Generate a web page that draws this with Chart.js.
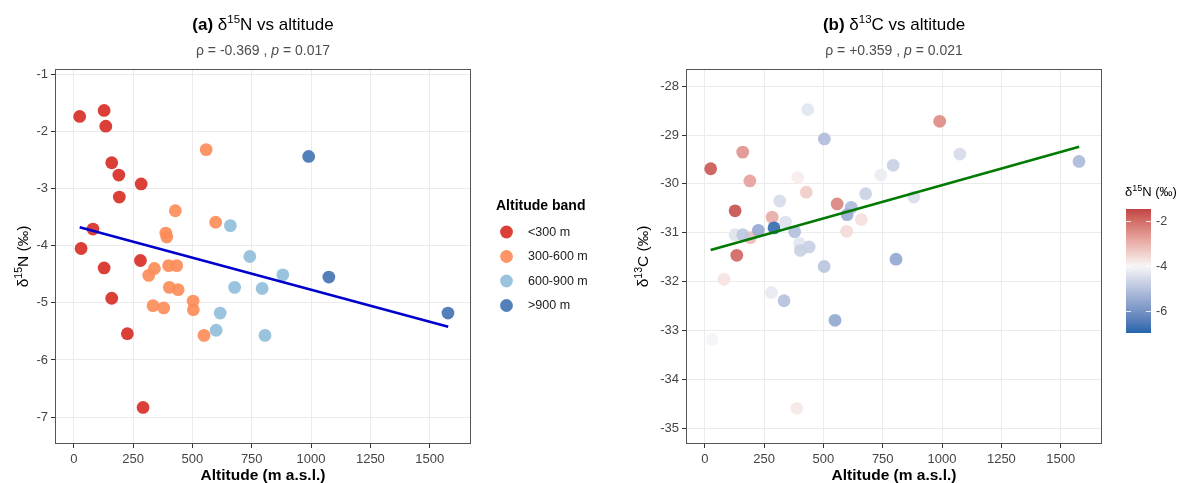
<!DOCTYPE html>
<html>
<head>
<meta charset="utf-8">
<script src="https://cdn.jsdelivr.net/npm/chart.js@4"></script>
<style>
  html, body { margin: 0; padding: 0; background: #fff; }
  #wrap { position: relative; width: 1182px; height: 483px; }
  #c1 { position: absolute; left: 0; top: 0; }
  #c2 { position: absolute; left: 620px; top: 0; }
</style>
</head>
<body>
<div id="wrap">
  <canvas id="c1" width="620" height="483"></canvas>
  <canvas id="c2" width="562" height="483"></canvas>
</div>
<script>
// ---- data (one entry per sample) ----
const altitude = [25, 128, 135, 160, 190, 284, 192, 81, 31, 281, 128, 160, 226, 292,
  558, 428, 598, 392, 388, 340, 316, 400, 434, 403, 440, 334, 379, 503, 504, 549,
  660, 742, 881, 678, 794, 617, 600, 806,
  990, 1075, 1577];
const d15N = [-1.74, -1.635, -1.91, -2.55, -2.765, -2.92, -3.15, -3.71, -4.05, -4.26, -4.39, -4.92, -5.54, -6.83,
  -2.32, -3.39, -3.59, -3.85, -3.78, -4.40, -4.52, -4.35, -4.35, -4.73, -4.77, -5.05, -5.09, -4.97, -5.12, -5.57,
  -3.65, -4.19, -4.51, -4.73, -4.75, -5.18, -5.48, -5.57,
  -2.44, -4.55, -5.18];
const d13C = [-29.69, -30.55, -31.46, -29.35, -29.94, -30.68, -31.10, -31.95, -33.18, -32.22, -31.04, -31.04, -30.95, -30.90,
  -30.41, -30.17, -30.97, -29.87, -34.59, -30.78, -30.35, -31.22, -28.48, -31.36, -31.29, -32.39, -30.98, -31.69, -29.08, -32.79,
  -30.73, -29.82, -30.27, -30.20, -29.62, -30.48, -30.63, -31.54,
  -28.72, -29.39, -29.54];
const band = [0,0,0,0,0,0,0,0,0,0,0,0,0,0,
  1,1,1,1,1,1,1,1,1,1,1,1,1,1,1,1,
  2,2,2,2,2,2,2,2,
  3,3,3];
const bandLabels = ['<300 m', '300-600 m', '600-900 m', '>900 m'];

// fitted regression lines (end points)
const fitX = [25, 1578];
const fitN = [-3.68, -5.42];
const fitC = [-31.35, -29.24];

const xTicks = [0, 250, 500, 750, 1000, 1250, 1500];
const yTicksN = [-7, -6, -5, -4, -3, -2, -1];
const yTicksC = [-35, -34, -33, -32, -31, -30, -29, -28];
const cbarTicks = [-6, -4, -2];

// ---- styling ----
const FONT = '"Liberation Sans", Arial, Helvetica, sans-serif';
const bandColors = ['rgba(215,48,39,0.92)', 'rgba(252,141,89,0.92)', 'rgba(145,191,219,0.92)', 'rgba(69,117,180,0.92)'];
const cbarLimits = [-7.0, -1.44];
const cbarMid = -4;

// Lab interpolation like ggplot's gradient2
function hexToRgb(h) { return [1, 3, 5].map(i => parseInt(h.slice(i, i + 2), 16)); }
function toLab(hex) {
  const lin = c => { c /= 255; return c <= 0.04045 ? c / 12.92 : Math.pow((c + 0.055) / 1.055, 2.4); };
  const [r, g, b] = hexToRgb(hex).map(lin);
  const x = (r * 0.4124 + g * 0.3576 + b * 0.1805) / 0.95047;
  const y = r * 0.2126 + g * 0.7152 + b * 0.0722;
  const z = (r * 0.0193 + g * 0.1192 + b * 0.9505) / 1.08883;
  const f = t => t > 0.008856 ? Math.cbrt(t) : 7.787 * t + 16 / 116;
  const fx = f(x), fy = f(y), fz = f(z);
  return [116 * fy - 16, 500 * (fx - fy), 200 * (fy - fz)];
}
function fromLab(L, a, b) {
  const fy = (L + 16) / 116, fx = fy + a / 500, fz = fy - b / 200;
  const g = t => t * t * t > 0.008856 ? t * t * t : (t - 16 / 116) / 7.787;
  const x = g(fx) * 0.95047, y = g(fy), z = g(fz) * 1.08883;
  const r = x * 3.2406 - y * 1.5372 - z * 0.4986;
  const gg = -x * 0.9689 + y * 1.8758 + z * 0.0415;
  const bb = x * 0.0557 - y * 0.2040 + z * 1.0570;
  const d = c => { c = c <= 0.0031308 ? 12.92 * c : 1.055 * Math.pow(c, 1 / 2.4) - 0.055; return Math.round(Math.max(0, Math.min(1, c)) * 255); };
  return [d(r), d(gg), d(bb)];
}
const labLow = toLab('#2166AC'), labMid = toLab('#F7F7F7'), labHigh = toLab('#B2182B');
function divColor(v, alpha) {
  const span = Math.max(cbarMid - cbarLimits[0], cbarLimits[1] - cbarMid);
  let t = 0.5 + (v - cbarMid) / (2 * span);
  t = Math.max(0, Math.min(1, t));
  const [a, b, u] = t < 0.5 ? [labLow, labMid, t * 2] : [labMid, labHigh, (t - 0.5) * 2];
  const c = fromLab(a[0] + (b[0] - a[0]) * u, a[1] + (b[1] - a[1]) * u, a[2] + (b[2] - a[2]) * u);
  return `rgba(${c[0]},${c[1]},${c[2]},${alpha})`;
}

// draw text made of pieces (for superscripts / italics)
function drawRich(ctx, parts, x, y, align) {
  let total = 0;
  parts.forEach(p => { ctx.font = p[1]; total += ctx.measureText(p[0]).width; });
  let cx = align === 'center' ? x - total / 2 : x;
  ctx.textAlign = 'left';
  ctx.textBaseline = 'alphabetic';
  parts.forEach(p => {
    ctx.font = p[1];
    ctx.fillText(p[0], cx, y + (p[2] || 0));
    cx += ctx.measureText(p[0]).width;
  });
}

function makeScales(yMin, yMax, yTicks, yWidth) {
  const tickFont = { family: FONT, size: 13 };
  const grid = { color: '#ebebeb', lineWidth: 1, tickColor: '#333', tickLength: 4 };
  return {
    x: {
      type: 'linear', min: -79, max: 1674,
      afterBuildTicks: s => { s.ticks = xTicks.map(v => ({ value: v })); },
      afterFit: s => { s.height = 39; },
      ticks: { font: tickFont, color: '#444', padding: 4, maxRotation: 0, autoSkip: false, callback: v => String(v) },
      grid: grid,
      border: { display: false },
      title: { display: true, text: 'Altitude (m a.s.l.)', color: '#000', padding: { top: 0, bottom: -2 },
               font: { family: FONT, size: 15.5, weight: 'bold' } }
    },
    y: {
      type: 'linear', min: yMin, max: yMax,
      afterBuildTicks: s => { s.ticks = yTicks.map(v => ({ value: v })); },
      afterFit: s => { s.width = yWidth; },
      ticks: { font: tickFont, color: '#444', padding: 3, autoSkip: false, callback: v => String(v) },
      grid: grid,
      border: { display: false }
    }
  };
}

function decorPlugin(opts) {
  return {
    id: 'decor',
    afterDraw(chart) {
      const ctx = chart.ctx, a = chart.chartArea;
      const cx = (a.left + a.right) / 2;
      ctx.save();
      // panel border
      ctx.strokeStyle = '#555';
      ctx.lineWidth = 1;
      ctx.strokeRect(Math.round(a.left) + 0.5, Math.round(a.top) + 0.5, Math.round(a.right - a.left) - 1, Math.round(a.bottom - a.top) - 1);
      // title and subtitle
      ctx.fillStyle = '#000';
      drawRich(ctx, opts.title, cx, 30, 'center');
      ctx.fillStyle = '#4d4d4d';
      drawRich(ctx, opts.subtitle, cx, 55, 'center');
      // y axis title
      ctx.fillStyle = '#000';
      ctx.save();
      ctx.translate(28, (a.top + a.bottom) / 2);
      ctx.rotate(-Math.PI / 2);
      drawRich(ctx, opts.yTitle, 0, 0, 'center');
      ctx.restore();
      if (opts.extra) opts.extra(ctx, chart);
      ctx.restore();
    }
  };
}

const f = (w, s) => `${w} ${s}px ${FONT}`;

function titleParts(tag, iso, el) {
  return [[tag + ' ', f('bold', 17)], ['δ', f('normal', 17)], [iso, f('normal', 11.5), -7], [el + ' vs altitude', f('normal', 17)]];
}

// ---- left: δ15N vs altitude ----
new Chart(document.getElementById('c1'), {
  type: 'scatter',
  data: {
    datasets: [
      { type: 'line', data: fitX.map((x, i) => ({ x: x, y: fitN[i] })), borderColor: '#0000CD', borderWidth: 2.6,
        pointRadius: 0, showLine: true, fill: false, order: 0 },
      { data: altitude.map((x, i) => ({ x: x, y: d15N[i] })), backgroundColor: band.map(b => bandColors[b]),
        borderWidth: 0, pointRadius: 6.4, pointHoverRadius: 6.4, order: 1 }
    ]
  },
  options: {
    responsive: false, animation: false, events: [],
    layout: { padding: { left: 0, top: 69, right: 149, bottom: 0 }, autoPadding: false },
    plugins: { legend: { display: false }, tooltip: { enabled: false } },
    scales: makeScales(-7.47, -0.91, yTicksN, 55)
  },
  plugins: [decorPlugin({
    title: titleParts('(a)', '15', 'N'),
    subtitle: [['ρ = -0.369 , ', f('normal', 14)], ['p', f('italic', 14)], [' = 0.017', f('normal', 14)]],
    yTitle: [['δ', f('normal', 15.5)], ['15', f('normal', 10.5), -6], ['N (‰)', f('normal', 15.5)]],
    extra(ctx) {
      // legend
      ctx.fillStyle = '#000';
      ctx.font = f('bold', 14);
      ctx.textAlign = 'left';
      ctx.textBaseline = 'alphabetic';
      ctx.fillText('Altitude band', 496, 210);
      ctx.font = f('normal', 12.5);
      ctx.textBaseline = 'middle';
      bandLabels.forEach((lab, i) => {
        const y = 232 + i * 24.5;
        ctx.fillStyle = bandColors[i];
        ctx.beginPath();
        ctx.arc(506.5, y, 6.4, 0, Math.PI * 2);
        ctx.fill();
        ctx.fillStyle = '#1a1a1a';
        ctx.fillText(lab, 528, y + 0.5);
      });
    }
  })]
});

// ---- right: δ13C vs altitude ----
new Chart(document.getElementById('c2'), {
  type: 'scatter',
  data: {
    datasets: [
      { type: 'line', data: fitX.map((x, i) => ({ x: x, y: fitC[i] })), borderColor: '#007A00', borderWidth: 2.6,
        pointRadius: 0, showLine: true, fill: false, order: 0 },
      { data: altitude.map((x, i) => ({ x: x, y: d13C[i] })), backgroundColor: d15N.map(v => divColor(v, 0.92)),
        borderWidth: 0, pointRadius: 6.4, pointHoverRadius: 6.4, order: 1 }
    ]
  },
  options: {
    responsive: false, animation: false, events: [],
    layout: { padding: { left: 0, top: 69, right: 80, bottom: 0 }, autoPadding: false },
    plugins: { legend: { display: false }, tooltip: { enabled: false } },
    scales: makeScales(-35.32, -27.65, yTicksC, 66)
  },
  plugins: [decorPlugin({
    title: titleParts('(b)', '13', 'C'),
    subtitle: [['ρ = +0.359 , ', f('normal', 14)], ['p', f('italic', 14)], [' = 0.021', f('normal', 14)]],
    yTitle: [['δ', f('normal', 15.5)], ['13', f('normal', 10.5), -6], ['C (‰)', f('normal', 15.5)]],
    extra(ctx) {
      // colour bar
      const x0 = 506, w = 25, top = 209, bot = 333;
      const vy = v => top + (cbarLimits[1] - v) / (cbarLimits[1] - cbarLimits[0]) * (bot - top);
      ctx.fillStyle = '#000';
      drawRich(ctx, [['δ', f('normal', 13)], ['15', f('normal', 9), -5], ['N (‰)', f('normal', 13)]], 505, 196, 'left');
      const grad = ctx.createLinearGradient(0, top, 0, bot);
      for (let k = 0; k <= 40; k++) {
        const v = cbarLimits[1] - (cbarLimits[1] - cbarLimits[0]) * k / 40;
        grad.addColorStop(k / 40, divColor(v, 1));
      }
      ctx.fillStyle = grad;
      ctx.fillRect(x0, top, w, bot - top);
      ctx.strokeStyle = 'rgba(255,255,255,0.8)';
      ctx.lineWidth = 1;
      ctx.font = f('normal', 12.5);
      ctx.textAlign = 'left';
      ctx.textBaseline = 'middle';
      cbarTicks.forEach(t => {
        const y = Math.round(vy(t)) + 0.5;
        ctx.beginPath();
        ctx.moveTo(x0, y); ctx.lineTo(x0 + 5, y);
        ctx.moveTo(x0 + w - 5, y); ctx.lineTo(x0 + w, y);
        ctx.stroke();
        ctx.fillStyle = '#444';
        ctx.fillText(String(t), x0 + w + 5, y);
      });
    }
  })]
});
</script>
</body>
</html>
